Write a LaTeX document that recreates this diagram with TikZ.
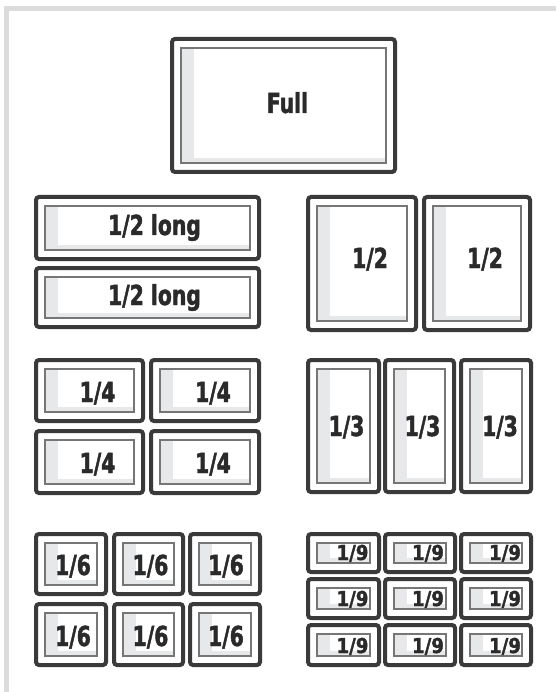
\documentclass[tikz,border=0pt]{standalone}
\usepackage{fontspec}
\newfontfamily\lblfont{DejaVu Sans}[FakeStretch=0.74,FakeBold=1.6]
\definecolor{framegray}{HTML}{DCDCDD}
\definecolor{outerc}{HTML}{3A3A3A}
\definecolor{innerc}{HTML}{767676}
\definecolor{shadec}{HTML}{E6E8EA}
\definecolor{textc}{HTML}{2A2A2A}
\tikzset{
  outerb/.style={draw=outerc, line width=4pt, rounded corners=3pt, fill=white},
  innerb/.style={draw=innerc, line width=1.2pt},
  shadefill/.style={fill=shadec},
  lbl/.style={anchor=base, inner sep=0pt, text=textc, font=\lblfont\bfseries\fontsize{27.5}{30}\selectfont},
  lblsmall/.style={anchor=base, inner sep=0pt, text=textc, font=\lblfont\bfseries\fontsize{24.5}{27}\selectfont},
}
% name, x1, y1, x2, y2, dx, baseline, text, label style
\newcommand\tray[9]{%
  \path[outerb] (#2+2,#3+2) rectangle (#4-2,#5-2);
  \fill[shadefill] (#2+11,#3+11) rectangle (#2+24,#5-11);
  \fill[shadefill] (#2+11,#5-16) rectangle (#4-11,#5-11);
  \draw[innerb] (#2+11,#3+11) rectangle (#4-11,#5-11);
  \node[#9] (#1) at ({(#2+#4)/2+#6},#7) {#8};
}
\begin{document}
\begin{tikzpicture}[x=1pt,y=-1pt]
\useasboundingbox (0,0) rectangle (556,692);
\fill[white] (0,0) rectangle (556,692);
\fill[framegray] (4,6) rectangle (556,11);
\fill[framegray] (4,6) rectangle (9,692);

\tray{full}{170}{37}{397}{174}{4}{113}{Full}{lbl}

\tray{long1}{34}{195}{261}{261}{7}{235}{1/2 long}{lbl}
\tray{long2}{34}{266}{261}{329}{7}{305}{1/2 long}{lbl}

\tray{half1}{306}{195}{418}{332}{8}{268}{1/2}{lbl}
\tray{half2}{422}{195}{532}{332}{8}{268}{1/2}{lbl}

\tray{q1}{34}{358}{145}{423}{8}{402}{1/4}{lbl}
\tray{q2}{149}{358}{261}{423}{8}{402}{1/4}{lbl}
\tray{q3}{34}{429}{145}{495}{8}{473}{1/4}{lbl}
\tray{q4}{149}{429}{261}{495}{8}{473}{1/4}{lbl}

\tray{t1}{306}{358}{381}{494}{3}{436}{1/3}{lbl}
\tray{t2}{383}{358}{456}{494}{3}{436}{1/3}{lbl}
\tray{t3}{459}{358}{533}{494}{4}{436}{1/3}{lbl}

\tray{s1}{34}{532}{108}{596}{2}{575}{1/6}{lbl}
\tray{s2}{112}{532}{185}{596}{2}{575}{1/6}{lbl}
\tray{s3}{188}{532}{262}{596}{1}{575}{1/6}{lbl}
\tray{s4}{34}{602}{108}{667}{2}{646}{1/6}{lbl}
\tray{s5}{112}{602}{185}{667}{2}{646}{1/6}{lbl}
\tray{s6}{188}{602}{262}{667}{1}{646}{1/6}{lbl}

\tray{n1}{306}{532}{381}{574}{9}{560}{\scalebox{1}[0.84]{1/9}}{lblsmall}
\tray{n2}{383}{532}{457}{574}{8}{560}{\scalebox{1}[0.84]{1/9}}{lblsmall}
\tray{n3}{459}{532}{533}{574}{9}{560}{\scalebox{1}[0.84]{1/9}}{lblsmall}
\tray{n4}{306}{577}{381}{620}{9}{606}{\scalebox{1}[0.84]{1/9}}{lblsmall}
\tray{n5}{383}{577}{457}{620}{8}{606}{\scalebox{1}[0.84]{1/9}}{lblsmall}
\tray{n6}{459}{577}{533}{620}{9}{606}{\scalebox{1}[0.84]{1/9}}{lblsmall}
\tray{n7}{306}{623}{381}{667}{9}{653}{\scalebox{1}[0.84]{1/9}}{lblsmall}
\tray{n8}{383}{623}{457}{667}{8}{653}{\scalebox{1}[0.84]{1/9}}{lblsmall}
\tray{n9}{459}{623}{533}{667}{9}{653}{\scalebox{1}[0.84]{1/9}}{lblsmall}
\end{tikzpicture}
\end{document}
